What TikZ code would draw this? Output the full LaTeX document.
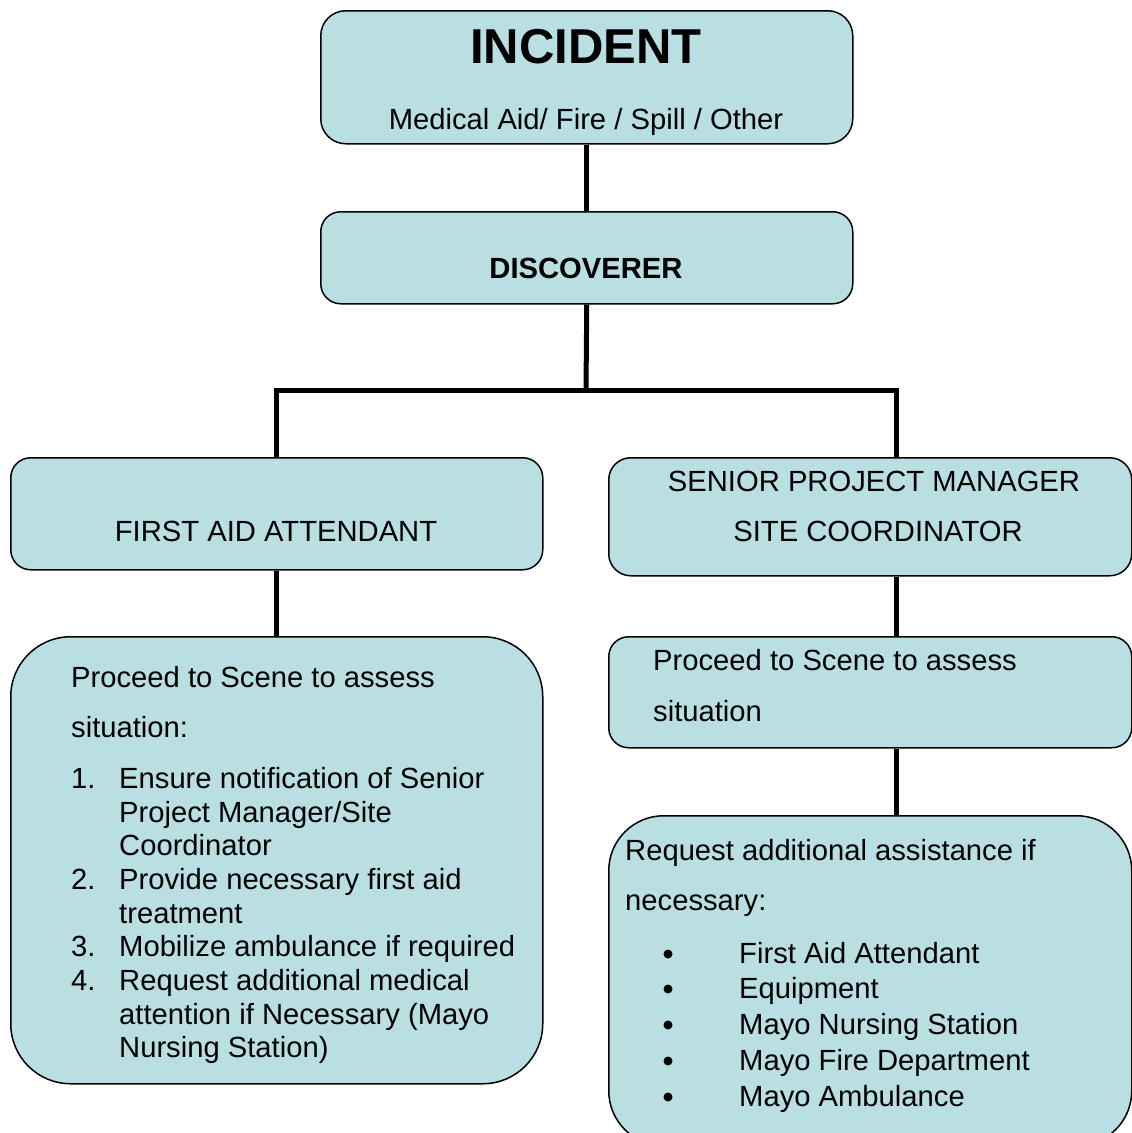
\documentclass[tikz,border=0pt]{standalone}
\usepackage{fontspec}
\setmainfont{Liberation Sans}
\definecolor{boxfill}{HTML}{B9DFE3}
\begin{document}
\begin{tikzpicture}[x=1pt,y=-1pt,
  box/.style={draw=black, line width=1.5pt, fill=boxfill, inner sep=0pt, anchor=north west},
  conn/.style={line width=5pt, line cap=butt, line join=miter},
  txt/.style={inner sep=0pt, font=\fontsize{29.2}{34}\selectfont},
  txtl/.style={txt, anchor=base west},
  txtc/.style={txt, anchor=base},
  bul/.style={circle, fill=black, inner sep=0pt, minimum size=9pt}]
\useasboundingbox (0,0) rectangle (1132,1133);
% boxes
\node[box, rounded corners=25pt, minimum width=532pt, minimum height=133pt] (inc) at (320,10) {};
\node[box, rounded corners=20pt, minimum width=532pt, minimum height=92pt] (disc) at (320,211) {};
\node[box, rounded corners=20pt, minimum width=532pt, minimum height=112pt] (fa) at (10,457) {};
\node[box, rounded corners=22pt, minimum width=523pt, minimum height=118pt] (spm) at (608,457) {};
\node[box, rounded corners=60pt, minimum width=532pt, minimum height=447pt] (fab) at (10,636) {};
\node[box, rounded corners=20pt, minimum width=523pt, minimum height=111pt] (pr) at (608,636) {};
\node[box, rounded corners=55pt, minimum width=523pt, minimum height=330pt] (req) at (608,815) {};
% connectors
\coordinate (jm) at (586,390);
\coordinate (jl) at (276,390);
\coordinate (jr) at (896,390);
\draw[conn] (inc.south) -- (disc.north);
\draw[conn] (disc.south) -- (jm);
\draw[conn] (jl |- fa.north) -- (jl) -- (jr) -- (jr |- spm.north);
\draw[conn] (fa.south) -- (fab.north);
\draw[conn] (jr |- spm.south) -- (jr |- pr.north);
\draw[conn] (jr |- pr.south) -- (jr |- req.north);
% texts
\node[txtc, font=\bfseries\fontsize{49}{56}\selectfont] (t1) at (586,63) {INCIDENT};
\node[txtc] (t2) at (586,129) {Medical Aid/ Fire / Spill / Other};
\node[txtc, font=\bfseries\fontsize{29.2}{34}\selectfont] (t3) at (586,278) {DISCOVERER};
\node[txtc] (t4) at (276,541) {FIRST AID ATTENDANT};
\node[txtc] (t5) at (874,491) {SENIOR PROJECT MANAGER};
\node[txtc] (t6) at (878,541) {SITE COORDINATOR};
% left big box
\node[txtl] (l1) at (71,687) {Proceed to Scene to assess};
\node[txtl] (l2) at (71,737) {situation:};
\node[txtl] (n1) at (71,788) {1.};
\node[txtl] (l3) at (119,788) {Ensure notification of Senior};
\node[txtl] (l4) at (119,822) {Project Manager/Site};
\node[txtl] (l5) at (119,855) {Coordinator};
\node[txtl] (n2) at (71,889) {2.};
\node[txtl] (l6) at (119,889) {Provide necessary first aid};
\node[txtl] (l7) at (119,923) {treatment};
\node[txtl] (n3) at (71,956) {3.};
\node[txtl] (l8) at (119,956) {Mobilize ambulance if required};
\node[txtl] (n4) at (71,990) {4.};
\node[txtl] (l9) at (119,990) {Request additional medical};
\node[txtl] (l10) at (119,1024) {attention if Necessary (Mayo};
\node[txtl] (l11) at (119,1057) {Nursing Station)};
% right proceed
\node[txtl] (r1) at (653,670) {Proceed to Scene to assess};
\node[txtl] (r2) at (653,721) {situation};
% request
\node[txtl] (q1) at (625,860) {Request additional assistance if};
\node[txtl] (q2) at (625,910) {necessary:};
\node[bul] (b1) at (668,954) {};
\node[txtl] (q3) at (739,963) {First Aid Attendant};
\node[bul] (b2) at (668,989) {};
\node[txtl] (q4) at (739,998) {Equipment};
\node[bul] (b3) at (668,1025) {};
\node[txtl] (q5) at (739,1034) {Mayo Nursing Station};
\node[bul] (b4) at (668,1061) {};
\node[txtl] (q6) at (739,1070) {Mayo Fire Department};
\node[bul] (b5) at (668,1097) {};
\node[txtl] (q7) at (739,1106) {Mayo Ambulance};
\end{tikzpicture}
\end{document}
